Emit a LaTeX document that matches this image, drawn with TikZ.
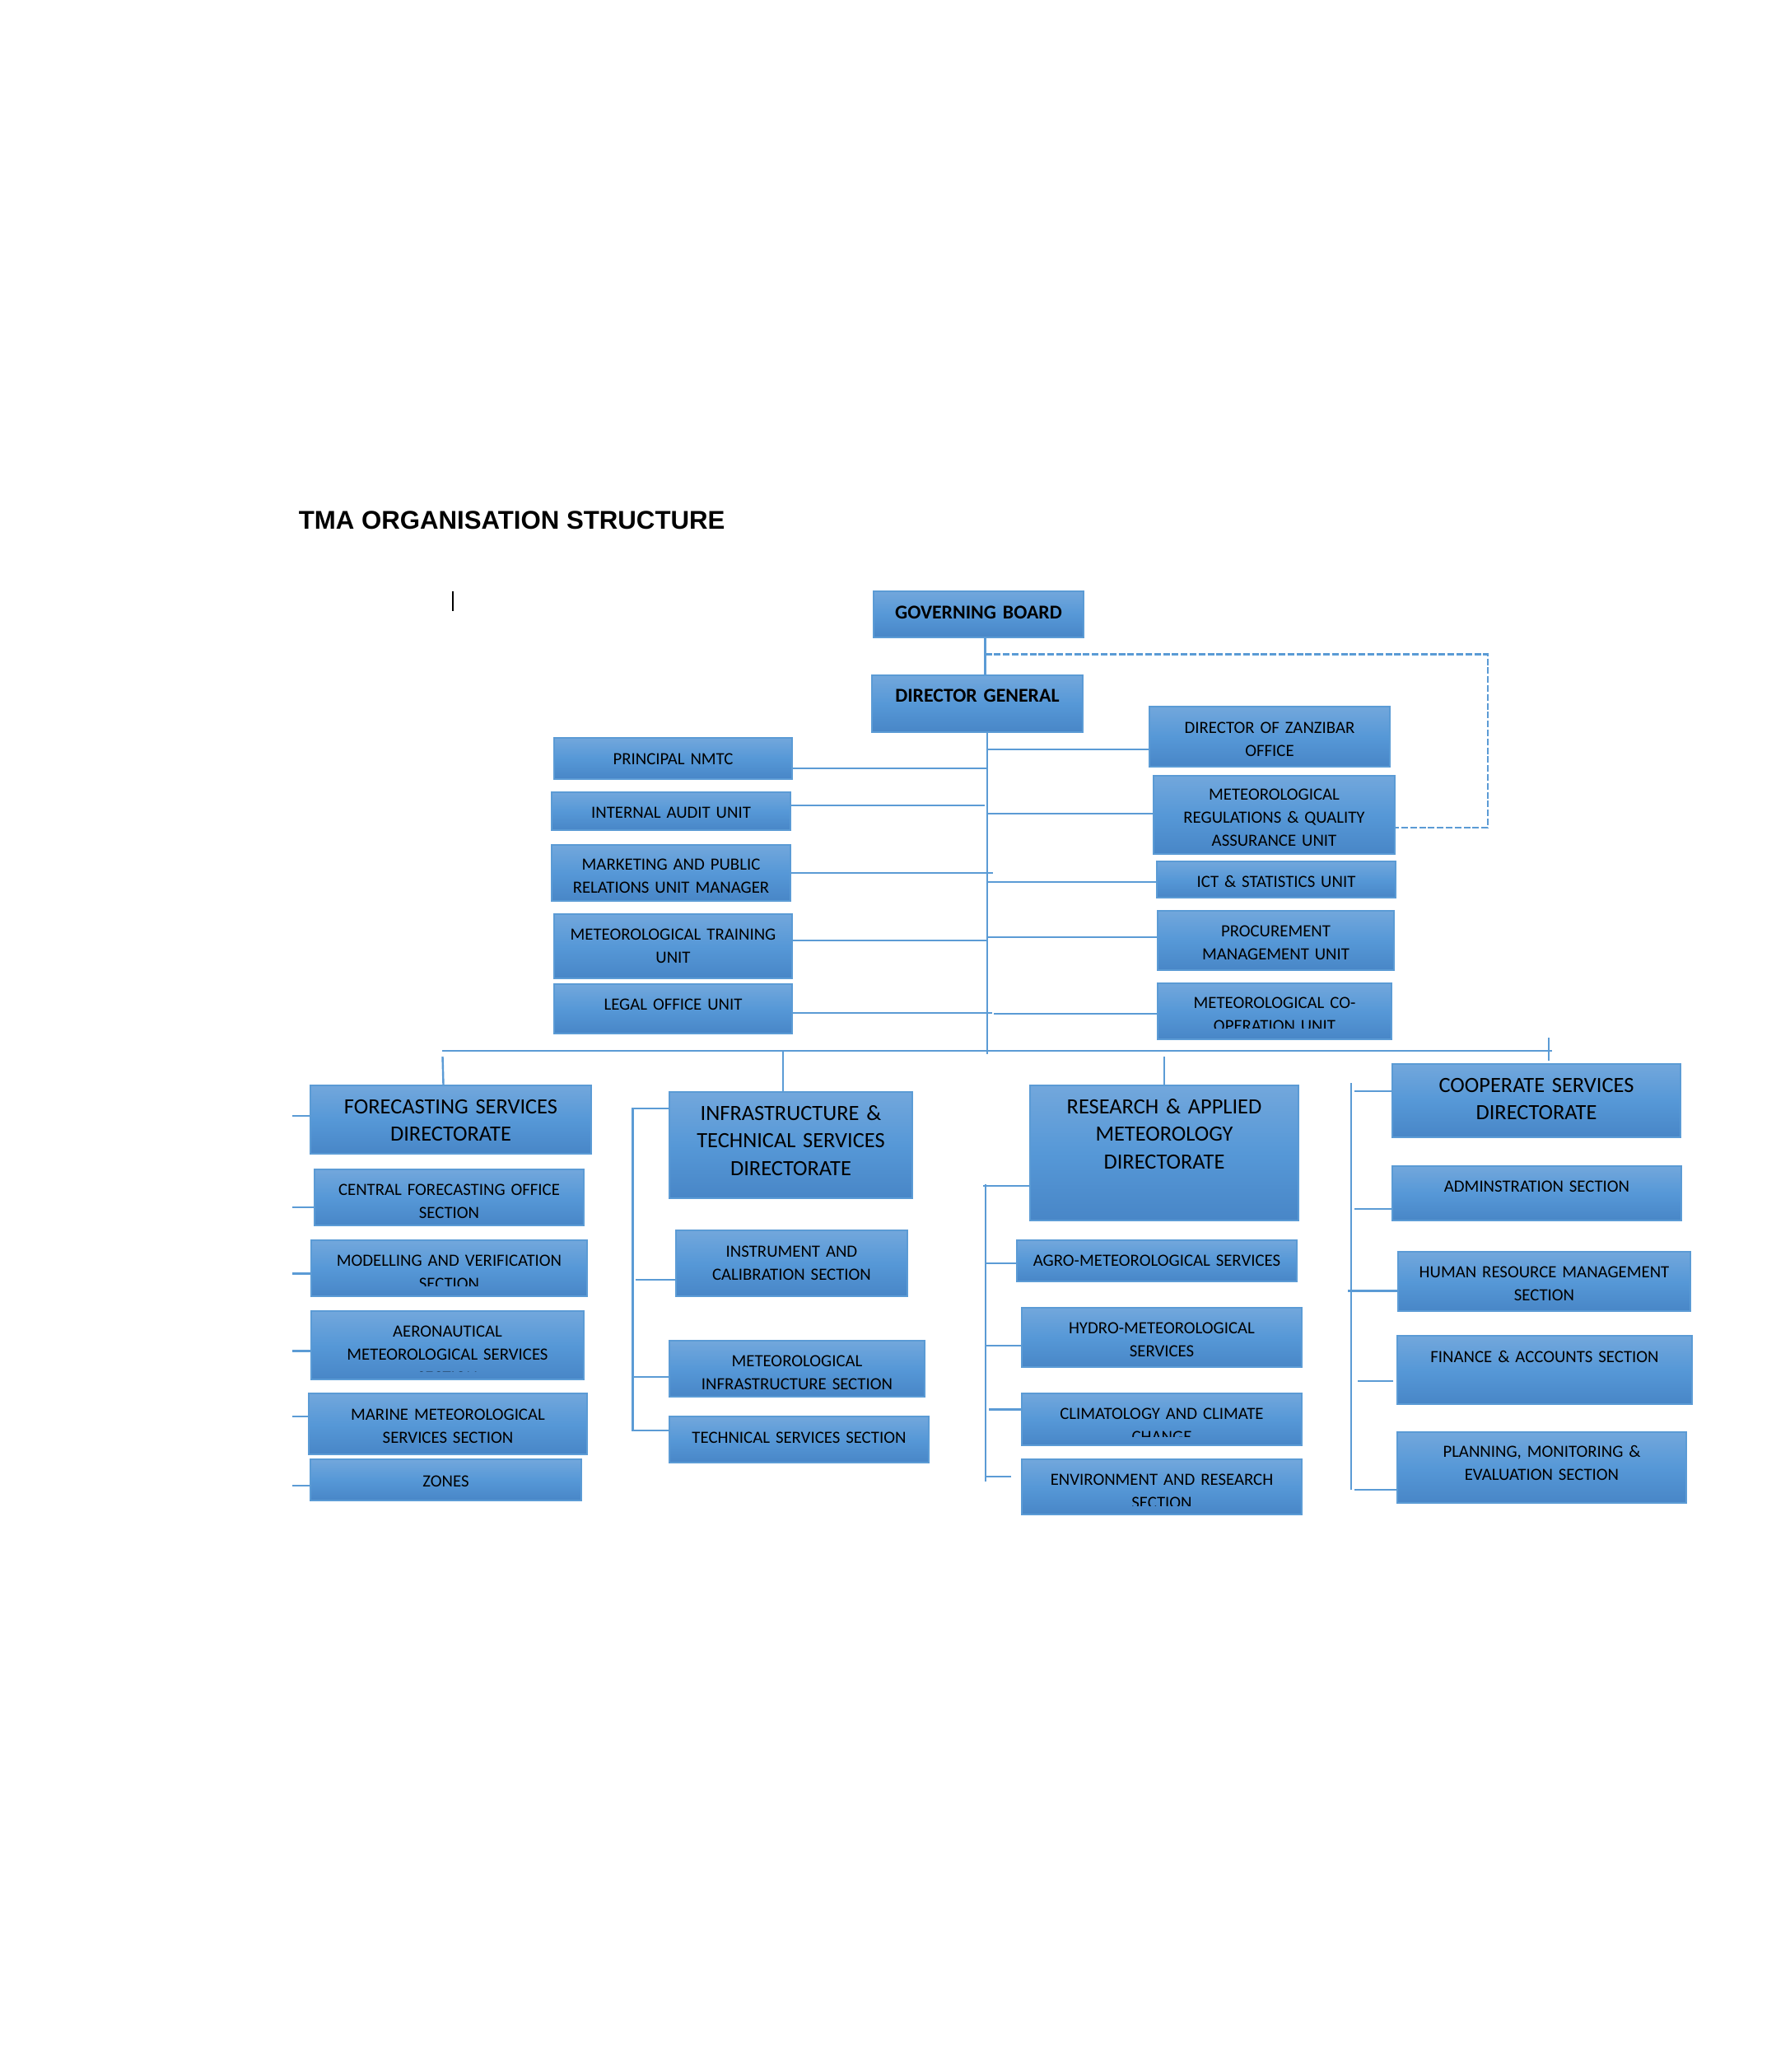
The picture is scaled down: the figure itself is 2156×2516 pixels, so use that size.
\documentclass[tikz,border=0pt]{standalone}
\usepackage{fontspec}
\setmainfont{Carlito}
\newfontfamily\titlefont{Liberation Sans}
\usetikzlibrary{fit}

\definecolor{boxtop}{RGB}{114,167,220}
\definecolor{boxmid}{RGB}{86,152,215}
\definecolor{boxbot}{RGB}{72,134,199}
\definecolor{boxedge}{RGB}{91,155,213}
\definecolor{linkblue}{RGB}{91,155,213}

\newcommand{\unitfont}{\fontsize{5.2}{7}\selectfont}
\newcommand{\dirfont}{\fontsize{6.6}{8.4}\selectfont}
\newcommand{\headfont}{\fontsize{5.95}{8}\selectfont\bfseries}

\tikzset{
  orgbox/.style={rectangle, draw=boxedge, line width=0.5pt, top color=boxtop, bottom color=boxbot, middle color=boxmid, inner sep=0pt},
  boxlabel/.style n args={3}{path picture={
      \node[font=#1, align=center, inner sep=0pt, yshift={#2-2.1pt}] at (path picture bounding box.center) {#3};}},
  cutlabel/.style n args={4}{path picture={
      \clip (path picture bounding box.north west) rectangle ([yshift=#4]path picture bounding box.south east);
      \node[font=#1, align=center, inner sep=0pt, yshift={#2-2.1pt}] at (path picture bounding box.center) {#3};}},
  link/.style={draw=linkblue, line width=0.6pt},
  dashlink/.style={draw=linkblue, line width=0.6pt, dash pattern=on 2pt off 0.7pt},
}

\begin{document}
\begin{tikzpicture}[x=0.25pt,y=-0.25pt]
%page and margins
\fill[white] (0,0) rectangle (2156,2516);
\useasboundingbox (0,0) rectangle (2156,2516);

% Text Node
\node[anchor=base west, inner sep=0pt, font=\titlefont\bfseries\fontsize{7.8}{9}\selectfont] (title) at (362,642) {TMA ORGANISATION STRUCTURE};
%Straight Lines [cursor]
\draw[black, line width=0.4pt] (550,718) -- (550,742);

%Shape: Rectangle [board and director general]
\node[orgbox, fit={(1061,718) (1316,774)}, boxlabel={\headfont}{0.8pt}{GOVERNING BOARD}] (gb) {};
\node[orgbox, fit={(1059,820) (1315,889)}, boxlabel={\headfont}{2.5pt}{DIRECTOR GENERAL}] (dg) {};

%Shape: Rectangle [units on the left]
\node[orgbox, fit={(673,896) (962,946)}, boxlabel={\unitfont}{0.3pt}{PRINCIPAL NMTC}] (nmtc) {};
\node[orgbox, fit={(670,962) (960,1008)}, boxlabel={\unitfont}{0pt}{INTERNAL AUDIT UNIT}] (audit) {};
\node[orgbox, fit={(670,1026) (960,1094)}, boxlabel={\unitfont}{-0.6pt}{MARKETING AND PUBLIC\\RELATIONS UNIT MANAGER}] (mpr) {};
\node[orgbox, fit={(673,1110) (962,1188)}, boxlabel={\unitfont}{0.5pt}{METEOROLOGICAL TRAINING\\UNIT}] (mtu) {};
\node[orgbox, fit={(673,1195) (962,1255)}, boxlabel={\unitfont}{1.75pt}{LEGAL OFFICE UNIT}] (legal) {};

%Shape: Rectangle [units on the right]
\node[orgbox, fit={(1396,858) (1688,931)}, boxlabel={\unitfont}{-0.3pt}{DIRECTOR OF ZANZIBAR\\OFFICE}] (zanzibar) {};
\node[orgbox, fit={(1401,942) (1694,1037)}, boxlabel={\unitfont}{-0.5pt}{METEOROLOGICAL\\REGULATIONS \& QUALITY\\ASSURANCE UNIT}] (regs) {};
\node[orgbox, fit={(1405,1046) (1695,1090)}, boxlabel={\unitfont}{-0.4pt}{ICT \& STATISTICS UNIT}] (ict) {};
\node[orgbox, fit={(1406,1106) (1693,1178)}, boxlabel={\unitfont}{-0.4pt}{PROCUREMENT\\MANAGEMENT UNIT}] (proc) {};
\node[orgbox, fit={(1406,1194) (1690,1262)}, cutlabel={\unitfont}{-0.6pt}{METEOROLOGICAL CO-\\OPERATION UNIT}{3.5pt}] (coop) {};

%Shape: Rectangle [forecasting services]
\node[orgbox, fit={(377,1318) (718,1401)}, boxlabel={\dirfont}{-0.3pt}{FORECASTING SERVICES\\DIRECTORATE}] (fsd) {};
\node[orgbox, fit={(382,1420) (709,1488)}, boxlabel={\unitfont}{-0.9pt}{CENTRAL FORECASTING OFFICE\\SECTION}] (cfo) {};
\node[orgbox, fit={(378,1506) (713,1574)}, cutlabel={\unitfont}{-0.75pt}{MODELLING AND VERIFICATION\\SECTION}{3.2pt}] (mvs) {};
\node[orgbox, fit={(378,1592) (709,1675)}, cutlabel={\unitfont}{-2.4pt}{AERONAUTICAL\\METEOROLOGICAL SERVICES\\SECTION}{2.3pt}] (ams) {};
\node[orgbox, fit={(375,1692) (713,1766)}, boxlabel={\unitfont}{-0.2pt}{MARINE METEOROLOGICAL\\SERVICES SECTION}] (mmss) {};
\node[orgbox, fit={(377,1772) (706,1822)}, boxlabel={\unitfont}{0pt}{ZONES}] (zones) {};

%Shape: Rectangle [infrastructure and technical services]
\node[orgbox, fit={(813,1326) (1108,1455)}, boxlabel={\dirfont}{1.25pt}{INFRASTRUCTURE \&\\TECHNICAL SERVICES\\DIRECTORATE}] (itsd) {};
\node[orgbox, fit={(821,1494) (1102,1574)}, boxlabel={\unitfont}{0.5pt}{INSTRUMENT AND\\CALIBRATION SECTION}] (ics) {};
\node[orgbox, fit={(813,1628) (1123,1696)}, boxlabel={\unitfont}{-0.9pt}{METEOROLOGICAL\\INFRASTRUCTURE SECTION}] (mis) {};
\node[orgbox, fit={(813,1720) (1128,1776)}, boxlabel={\unitfont}{1pt}{TECHNICAL SERVICES SECTION}] (tss) {};

%Shape: Rectangle [research and applied meteorology]
\node[orgbox, fit={(1251,1318) (1577,1482)}, boxlabel={\dirfont}{5.65pt}{RESEARCH \& APPLIED\\METEOROLOGY\\DIRECTORATE}] (ramd) {};
\node[orgbox, fit={(1235,1506) (1575,1556)}, boxlabel={\unitfont}{0.4pt}{AGRO-METEOROLOGICAL SERVICES}] (agro) {};
\node[orgbox, fit={(1241,1588) (1581,1660)}, boxlabel={\unitfont}{-0.4pt}{HYDRO-METEOROLOGICAL\\SERVICES}] (hms) {};
\node[orgbox, fit={(1241,1692) (1581,1755)}, cutlabel={\unitfont}{-1.3pt}{CLIMATOLOGY AND CLIMATE\\CHANGE}{2.75pt}] (ccc) {};
\node[orgbox, fit={(1241,1772) (1581,1839)}, cutlabel={\unitfont}{-0.8pt}{ENVIRONMENT AND RESEARCH\\SECTION}{2.75pt}] (ers) {};

%Shape: Rectangle [cooperate services]
\node[orgbox, fit={(1691,1292) (2041,1381)}, boxlabel={\dirfont}{0.45pt}{COOPERATE SERVICES\\DIRECTORATE}] (csd) {};
\node[orgbox, fit={(1691,1416) (2042,1482)}, boxlabel={\unitfont}{2.4pt}{ADMINSTRATION SECTION}] (adm) {};
\node[orgbox, fit={(1698,1520) (2053,1592)}, boxlabel={\unitfont}{-0.4pt}{HUMAN RESOURCE MANAGEMENT\\SECTION}] (hrm) {};
\node[orgbox, fit={(1697,1622) (2055,1705)}, boxlabel={\unitfont}{4.4pt}{FINANCE \& ACCOUNTS SECTION}] (fin) {};
\node[orgbox, fit={(1697,1739) (2048,1825)}, boxlabel={\unitfont}{1.6pt}{PLANNING, MONITORING \&\\EVALUATION SECTION}] (pme) {};

%Straight Lines [board, director general and trunk]
\coordinate (split) at (1196.5,794.5);
\coordinate (dashturn) at (1807,1005);
\coordinate (trunkend) at (1199,1280);
\draw[link] ([xshift=2pt]gb.south) -- ([xshift=2pt]gb.south |- dg.north);
\draw[dashlink] (split) -| (dashturn) -- (dashturn -| regs.east);
\draw[link] (dg.south -| trunkend) -- (trunkend);

%Straight Lines [left units]
\draw[link] ([yshift=-3pt]nmtc.east) -- ([yshift=-3pt]nmtc.east -| trunkend);
\draw[link] ([yshift=1.75pt]audit.east) -- ++(235,0);
\draw[link] (mpr.east) -- ++(245,0);
\draw[link] ([yshift=1.75pt]mtu.east) -- ([yshift=1.75pt]mtu.east -| trunkend);
\draw[link] ([yshift=-1.25pt]legal.east) -- ++(242,0);

%Straight Lines [right units]
\draw[link] ([yshift=-3.9pt]zanzibar.west) -- ([yshift=-3.9pt]zanzibar.west -| trunkend);
\draw[link] ([yshift=0.4pt]regs.west) -- ([yshift=0.4pt]regs.west -| trunkend);
\draw[link] ([yshift=-0.75pt]ict.west) -- ([yshift=-0.75pt]ict.west -| trunkend);
\draw[link] ([yshift=1pt]proc.west) -- ([yshift=1pt]proc.west -| trunkend);
\draw[link] ([yshift=-0.75pt]coop.west) -- ++(-198,0);

%Straight Lines [bus to the directorates]
\coordinate (busleft) at (537,1276);
\coordinate (busright) at (1885,1276);
\draw[link] (busleft) -- (busright);
\draw[link] ([xshift=-2.25pt]fsd.north) -- ++(-1,-34);
\draw[link] ([xshift=-2.4pt]itsd.north) -- ([xshift=-2.4pt]itsd.north |- busleft);
\draw[link] (ramd.north) -- ++(0,-34);
\draw[link] ([xshift=3.75pt,yshift=0.75pt]csd.north) -- ++(0,-28);

%Straight Lines [forecasting services]
\draw[link] ([yshift=1.1pt]fsd.west) -- ++(-21,0);
\draw[link] ([yshift=-3pt]cfo.west) -- ++(-26,0);
\draw[link] ([yshift=-1.65pt]mvs.west) -- ++(-22,0);
\draw[link] ([yshift=-1.75pt]ams.west) -- ++(-22,0);
\draw[link] ([yshift=2.25pt]mmss.west) -- ++(-19,0);
\draw[link] ([yshift=-1.75pt]zones.west) -- ++(-21,0);

%Straight Lines [infrastructure and technical services]
\coordinate (infratop) at (768.6,1345.7);
\coordinate (infrabot) at (768.6,1737);
\draw[link] (itsd.west |- infratop) -- (infratop) -- (infrabot) -- (tss.west |- infrabot);
\draw[link] ([yshift=-5pt]ics.west) -- ++(-48,0);
\draw[link] ([yshift=-2.5pt]mis.west) -- ([yshift=-2.5pt]mis.west -| infratop);

%Straight Lines [research and applied meteorology]
\coordinate (restop) at (1193.6,1440);
\coordinate (rescol) at (1196.7,1437.5);
\coordinate (resbot) at (1196.7,1799);
\draw[link] (ramd.west |- restop) -- (restop);
\draw[link] (rescol) -- (resbot);
\draw[link] ([yshift=-0.75pt]agro.west) -- ++(-38,0);
\draw[link] ([yshift=-2.5pt]hms.west) -- ++(-44,0);
\draw[link] ([yshift=3pt]ccc.west) -- ++(-39,0);
\draw[link] ([xshift=-3pt,yshift=3.2pt]ers.west) -- ++(-32,0);

%Straight Lines [cooperate services]
\coordinate (coltop) at (1641,1315);
\coordinate (colbot) at (1641,1808.7);
\draw[link] (coltop) -- (colbot);
\draw[link] ([yshift=2.9pt]csd.west) -- ++(-45,0);
\draw[link] ([yshift=-4.75pt]adm.west) -- ++(-45,0);
\draw[link] ([yshift=-2.9pt]hrm.west) -- ++(-60.5,0);
\draw[link] ([xshift=-0.9pt,yshift=-3.3pt]fin.west) -- ++(-43,0);
\draw[link] ([yshift=-6.7pt]pme.west) -- ++(-50.7,0);

\end{tikzpicture}
\end{document}
